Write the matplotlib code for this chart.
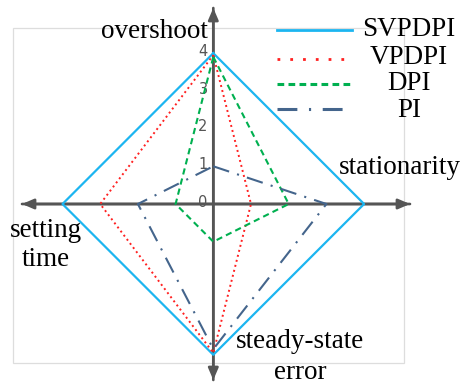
import matplotlib
matplotlib.use("Agg")
import matplotlib.pyplot as plt
from matplotlib.patches import Rectangle

# Data: values on the four axes (overshoot, stationarity, steady-state error, setting time)
axes_names = ["overshoot", "stationarity", "steady-state\nerror", "setting\ntime"]
series_names = ["SVPDPI", "VPDPI", "DPI", "PI"]
svpdpi = [4.0, 4.0, 4.0, 4.0]
vpdpi = [3.95, 1.0, 3.95, 3.0]
dpi = [3.9, 2.0, 1.0, 1.0]
pi = [1.0, 3.0, 3.85, 2.0]
tick_labels = ["0", "1", "2", "3", "4"]

colors = ["#1CB5F0", "#FF2020", "#00B050", "#44658C"]
styles = ["-", ":", (0, (3.0, 2.0)), (0, (8, 4, 1, 4))]
widths = [1.6, 1.4, 1.5, 1.5]

fig = plt.figure(figsize=(4.62, 3.85), dpi=100)
ax = fig.add_axes([0, 0, 1, 1])
ax.axis("off")

U = 37.7  # pixels per unit
cx, cy = 213.3, 204.0
ax.set_xlim((0 - cx) / U, (462 - cx) / U)
ax.set_ylim((cy - 385) / U, (cy - 0) / U)

def px(x):
    return (x - cx) / U

def py(y):
    return (cy - y) / U

# light gray frame
ax.add_patch(Rectangle((px(13), py(363)), px(404) - px(13), py(28) - py(363),
                       fill=False, ec="#DDDDDD", lw=0.9, zorder=0))

# axes arrows
arrow_kw = dict(arrowstyle="-|>,head_length=0.7,head_width=0.3", color="#555555", lw=1.9,
                shrinkA=0, shrinkB=0)
ax.annotate("", xy=(0, py(8)), xytext=(0, py(380)), arrowprops=arrow_kw, zorder=1)
ax.annotate("", xy=(0, py(380)), xytext=(0, py(8)), arrowprops=arrow_kw, zorder=1)
ax.annotate("", xy=(px(410), 0), xytext=(px(22), 0), arrowprops=arrow_kw, zorder=1)
ax.annotate("", xy=(px(22), 0), xytext=(px(410), 0), arrowprops=arrow_kw, zorder=1)

# tick labels
for i, t in enumerate(tick_labels):
    ax.text(-0.15, i + 0.05, t, ha="right", va="center", fontsize=10.5,
            color="#555555", family="DejaVu Sans", zorder=2)

# polygons
for vals, c, ls, lw in zip([svpdpi, vpdpi, dpi, pi], colors, styles, widths):
    xs = [0, vals[1], 0, -vals[3], 0]
    ys = [vals[0], 0, -vals[2], 0, vals[0]]
    ax.plot(xs, ys, color=c, linestyle=ls, lw=lw, zorder=3)

serif = ["Liberation Serif", "DejaVu Serif"]
fs = 19.5
ax.text(px(208), py(31), axes_names[0], ha="right", va="center", fontsize=fs, family=serif)
ax.text(px(400), py(168), axes_names[1], ha="center", va="center", fontsize=fs, family=serif)
ax.text(px(300), py(357), axes_names[2], ha="center", va="center", fontsize=fs, family=serif,
        linespacing=1.3)
ax.text(px(46), py(245), axes_names[3], ha="center", va="center", fontsize=fs, family=serif,
        linespacing=1.25)

# legend (manual)
leg_rows = [30, 59, 84, 109]
txt_rows = [29, 57, 84, 111]
leg_styles = ["-", (0, (1, 3.6)), (0, (2.2, 1.4)), (0, (6.5, 3.8, 0.7, 3.8))]
leg_widths = [2.0, 2.0, 2.2, 2.2]
for name, c, ls, lw, yr, yt in zip(series_names, colors, leg_styles, leg_widths, leg_rows, txt_rows):
    ax.plot([px(277), px(352)], [py(yr), py(yr)], color=c, linestyle=ls, lw=lw, zorder=3)
    ax.text(px(409), py(yt), name, ha="center", va="center", fontsize=fs, family=serif)

fig.savefig("out.png", dpi=100)
